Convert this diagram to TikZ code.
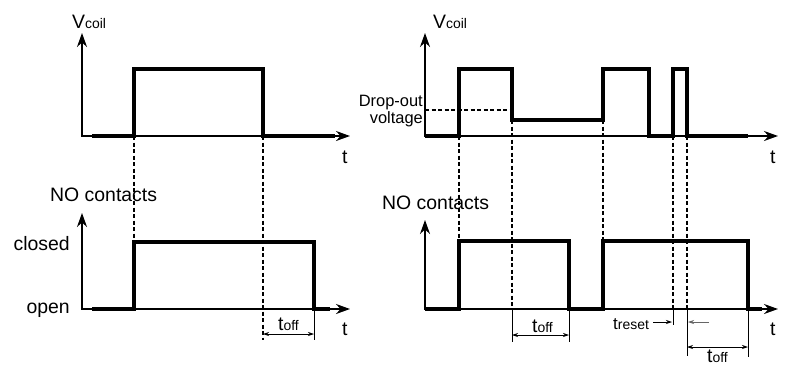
\documentclass[tikz,border=0pt]{standalone}
\usepackage{fontspec}
\setmainfont{Liberation Sans}
\usetikzlibrary{arrows.meta}
\newcommand{\mysub}[1]{{\fontsize{14}{16}\selectfont #1}}
\begin{document}
\begin{tikzpicture}[x=1bp,y=-1bp,
  wave/.style={line width=3.6bp, line join=miter, line cap=butt},
  axis/.style={line width=1.8bp, {Stealth[length=14bp,width=10bp]}-{Stealth[length=14bp,width=10bp]}},
  guide/.style={line width=1.2bp, dash pattern=on 4bp off 2.5bp},
  tickline/.style={line width=0.9bp},
  dim/.style={line width=0.7bp, {Stealth[length=6bp,width=4bp]}-{Stealth[length=6bp,width=4bp]}},
  half/.style={line width=0.7bp, -{Stealth[length=6bp,width=4bp]}},
  lbl/.style={inner sep=0, font=\fontsize{19.5}{22}\selectfont},
  small/.style={inner sep=0, font=\fontsize{16.5}{17}\selectfont, align=right}]
\useasboundingbox (0,0) rectangle (785,366);

% ---------- left top ----------
\draw[axis] (82,33) -- (82,136) -- (350,136);
\draw[wave] (92,136) -- (134,136) -- (134,69) -- (263,69) -- (263,136) -- (335,136);
\node[lbl, anchor=base west] (lv) at (72,28) {V\mysub{coil}};
\node[lbl, anchor=base west] (lt1) at (342,163) {t};

% ---------- left bottom ----------
\draw[axis] (82,213) -- (82,309) -- (350,309);
\draw[wave] (92,309) -- (134,309) -- (134,242) -- (314,242) -- (314,309) -- (330,309);
\node[lbl, anchor=base west] (lno) at (50,201) {NO contacts};
\node[lbl, anchor=base east] (lcl) at (70,250) {closed};
\node[lbl, anchor=base east] (lop) at (70,313) {open};
\node[lbl, anchor=base west] (lt2) at (342,335) {t};

% guides left
\draw[guide] (134,136) -- (134,242);
\draw[guide] (263,136) -- (263,340);
\draw[tickline] (314,309) -- (314,340);
\draw[dim] (263,334) -- (314,334);
\node[lbl, anchor=base west] (ltoff) at (278,330) {t\mysub{off}};

% ---------- right top ----------
\draw[axis] (425,33) -- (425,136) -- (778,136);
\draw[wave] (425,136) -- (459,136) -- (459,69) -- (512,69) -- (512,120) -- (603,120) -- (603,69) -- (649,69) -- (649,136) -- (673,136) -- (673,69) -- (687,69) -- (687,136) -- (748,136);
\draw[guide] (425,110) -- (510,110);
\node[small, anchor=north east] (drop) at (423,95) {Drop-out\\voltage};
\node[lbl, anchor=base west] (rv) at (433,28) {V\mysub{coil}};
\node[lbl, anchor=base west] (rt1) at (770,163) {t};

% ---------- right bottom ----------
\draw[axis] (425,220) -- (425,309) -- (778,309);
\draw[wave] (425,309) -- (459,309) -- (459,241) -- (569,241) -- (569,309) -- (603,309) -- (603,241) -- (748,241) -- (748,309) -- (762,309);
\node[lbl, anchor=base west] (rno) at (382,209) {NO contacts};
\node[lbl, anchor=base west] (rt2) at (770,335) {t};

% guides right
\draw[guide] (459,136) -- (459,241);
\draw[guide] (512,120) -- (512,309);
\draw[guide] (603,120) -- (603,241);
\draw[guide] (673,136) -- (673,309);
\draw[guide] (687,136) -- (687,309);

% dimension marks right
\draw[tickline] (512,309) -- (512,342);
\draw[tickline] (569,309) -- (569,342);
\draw[dim] (512,335) -- (569,335);
\node[lbl, anchor=base west] (rtoff1) at (532,332) {t\mysub{off}};

\draw[tickline] (673,309) -- (673,325);
\draw[tickline] (687,309) -- (687,356);
\draw[tickline] (748,309) -- (748,357);
\node[inner sep=0, anchor=base west, font=\fontsize{17}{19}\selectfont] (treset) at (613,329) {t\mysub{reset}};
\coordinate (ra) at (653,322);
\coordinate (rb) at (709,322);
\draw[half] (ra) -- (672,322);
\draw[half, black!60] (rb) -- (688,322);
\draw[dim] (687,347) -- (748,347);
\node[lbl, anchor=base west] (rtoff2) at (707,362) {t\mysub{off}};
\end{tikzpicture}
\end{document}
